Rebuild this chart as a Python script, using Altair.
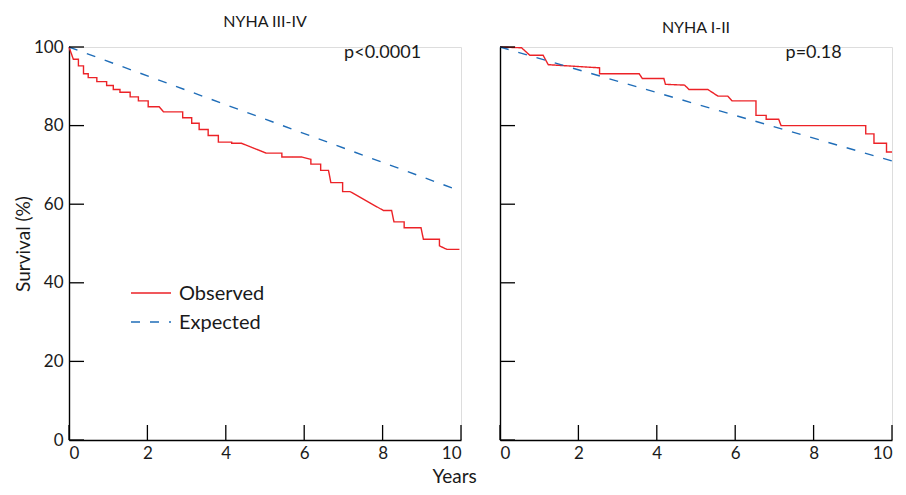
import altair as alt
import pandas as pd

# ---------------- data ----------------
panel_titles = ["NYHA III-IV", "NYHA I-II"]
p_values = ["p<0.0001", "p=0.18"]
p_label_x = [8.0, 8.0]
p_label_y = [100.0, 100.0]

series_names = ["Observed", "Expected"]

left_obs_x = [0, 0.11, 0.24, 0.24, 0.37, 0.37, 0.49, 0.49, 0.71, 0.71, 0.96, 0.96,
              1.13, 1.13, 1.30, 1.30, 1.56, 1.56, 1.77, 1.77, 2.02, 2.02, 2.30, 2.41,
              2.90, 2.90, 3.13, 3.13, 3.32, 3.32, 3.55, 3.55, 3.81, 3.81, 4.15, 4.15,
              4.40, 5.03, 5.43, 5.43, 5.94, 6.17, 6.17, 6.42, 6.42, 6.62, 6.68, 6.98,
              6.98, 7.17, 8.02, 8.23, 8.29, 8.55, 8.55, 8.98, 9.04, 9.45, 9.45, 9.64, 9.96]
left_obs_y = [100, 96.9, 96.9, 95.2, 95.2, 93.2, 93.2, 92.2, 92.2, 91.2, 91.2, 90.2,
              90.2, 89.2, 89.2, 88.5, 88.5, 87.3, 87.3, 86.3, 86.3, 84.8, 84.8, 83.5,
              83.5, 82.0, 82.0, 80.6, 80.6, 79.0, 79.0, 77.5, 77.5, 75.8, 75.8, 75.5,
              75.5, 73.0, 73.0, 72.0, 72.0, 71.4, 70.2, 70.2, 68.6, 68.6, 65.5, 65.5,
              63.2, 63.2, 58.4, 58.4, 55.5, 55.5, 54.0, 54.0, 51.1, 51.1, 49.4, 48.5, 48.5]

right_obs_x = [0, 0.55, 0.76, 1.10, 1.23, 2.54, 2.54, 3.55, 3.63, 4.18, 4.22, 4.71,
               4.82, 5.30, 5.56, 5.81, 5.92, 6.53, 6.53, 6.79, 6.79, 7.11, 7.17, 9.33,
               9.33, 9.54, 9.54, 9.86, 9.86, 10.0]
right_obs_y = [100, 99.8, 97.9, 97.9, 95.5, 94.7, 93.2, 93.2, 92.0, 92.0, 90.5, 90.3,
               89.2, 89.2, 87.5, 87.5, 86.3, 86.3, 82.6, 82.6, 81.6, 81.6, 80.0, 80.0,
               77.9, 77.9, 75.5, 75.5, 73.3, 73.3]

left_exp_x = [0, 10]
left_exp_y = [100, 63.3]
right_exp_x = [0, 10]
right_exp_y = [100, 71.0]

y_ticks = [0, 20, 40, 60, 80, 100]
x_ticks = [0, 2, 4, 6, 8, 10]

# ---------------- style ----------------
FONT = "Lato"
TXT = "#1a1a1a"
RED = "#ec2227"
BLUE = "#1f6db8"
DASH = [9, 10]
W, H = 392, 393
TICK = 15

xs = alt.Scale(domain=[0, 10], nice=False, zero=False)
ys = alt.Scale(domain=[0, 100], nice=False, zero=False)
color_scale = alt.Scale(domain=series_names, range=[RED, BLUE])
dash_scale = alt.Scale(domain=series_names, range=[[1, 0], DASH])


def make_df(obs_x, obs_y, exp_x, exp_y):
    rows = []
    for i, (x, y) in enumerate(zip(obs_x, obs_y)):
        rows.append({"series": "Observed", "x": x, "y": y, "o": i})
    for i, (x, y) in enumerate(zip(exp_x, exp_y)):
        rows.append({"series": "Expected", "x": x, "y": y, "o": i})
    return pd.DataFrame(rows)


def panel(idx, obs_x, obs_y, exp_x, exp_y, show_labels):
    df = make_df(obs_x, obs_y, exp_x, exp_y)
    x_axis = alt.Axis(values=x_ticks, title=None, tickSize=0, labelPadding=5,
                      labelFontSize=17, labelFont=FONT, labelColor=TXT,
                      domainColor="black", domainWidth=1.4, grid=False, format="d")
    y_axis = alt.Axis(values=y_ticks, title="Survival (%)" if show_labels else None,
                      tickSize=0, labelPadding=6, labels=show_labels,
                      labelFontSize=17, labelFont=FONT, labelColor=TXT,
                      titleFont=FONT, titleFontSize=19, titleFontWeight="normal",
                      titleColor=TXT, titlePadding=0,
                      domainColor="black", domainWidth=1.4, grid=False, format="d")
    X = lambda: alt.X("x:Q", scale=xs, axis=x_axis)
    Y = lambda: alt.Y("y:Q", scale=ys, axis=y_axis)
    lines = alt.Chart(df).mark_line(strokeWidth=1.4).encode(
        x=X(), y=Y(),
        color=alt.Color("series:N", scale=color_scale, legend=None),
        strokeDash=alt.StrokeDash("series:N", scale=dash_scale, legend=None),
        order=alt.Order("o:Q"),
    )
    ytk = alt.Chart(pd.DataFrame({"y": y_ticks})).mark_rule(color="black", strokeWidth=1.3).encode(
        y=Y(), x=alt.value(0), x2=alt.value(TICK))
    xtk = alt.Chart(pd.DataFrame({"x": x_ticks})).mark_rule(color="black", strokeWidth=1.3).encode(
        x=X(), y=alt.value(H), y2=alt.value(H - TICK))
    ptxt = alt.Chart(pd.DataFrame({"t": [p_values[idx]], "x": [p_label_x[idx]], "y": [p_label_y[idx]]})).mark_text(
        font=FONT, fontSize=18, color=TXT, baseline="middle", align="center", dy=6).encode(
        x=X(), y=Y(), text="t:N")
    layers = [lines, ytk, xtk, ptxt]
    if show_labels:
        for k, name in enumerate(series_names):
            ly = 246 + 29 * k
            sym = alt.Chart(pd.DataFrame({"series": [name]})).mark_rule(strokeWidth=1.4).encode(
                x=alt.value(62), x2=alt.value(102), y=alt.value(ly),
                color=alt.Color("series:N", scale=color_scale, legend=None),
                strokeDash=alt.StrokeDash("series:N", scale=dash_scale, legend=None))
            lab = alt.Chart(pd.DataFrame({"series": [name]})).mark_text(
                font=FONT, fontSize=20, color=TXT, align="left", baseline="middle", dy=1).encode(
                x=alt.value(110), y=alt.value(ly), text="series:N")
            layers += [sym, lab]
    return alt.layer(*layers).properties(
        width=W, height=H,
        title=alt.TitleParams(panel_titles[idx], font=FONT, fontSize=16, fontWeight="normal",
                              color=TXT, anchor="middle", offset=8))


left = panel(0, left_obs_x, left_obs_y, left_exp_x, left_exp_y, True)
right = panel(1, right_obs_x, right_obs_y, right_exp_x, right_exp_y, False)

chart = alt.hconcat(left, right, spacing=39).properties(
    bounds="flush",
    padding={"left": 5, "top": 5, "right": 0, "bottom": 0},
    title=alt.TitleParams("Years", orient="bottom", anchor="middle", font=FONT, fontSize=19,
                          fontWeight="normal", color=TXT, offset=6),
).configure_view(strokeWidth=0, stroke="transparent").configure(background="white")

chart.save("out.html", embed_options={"renderer": "svg", "actions": False})
